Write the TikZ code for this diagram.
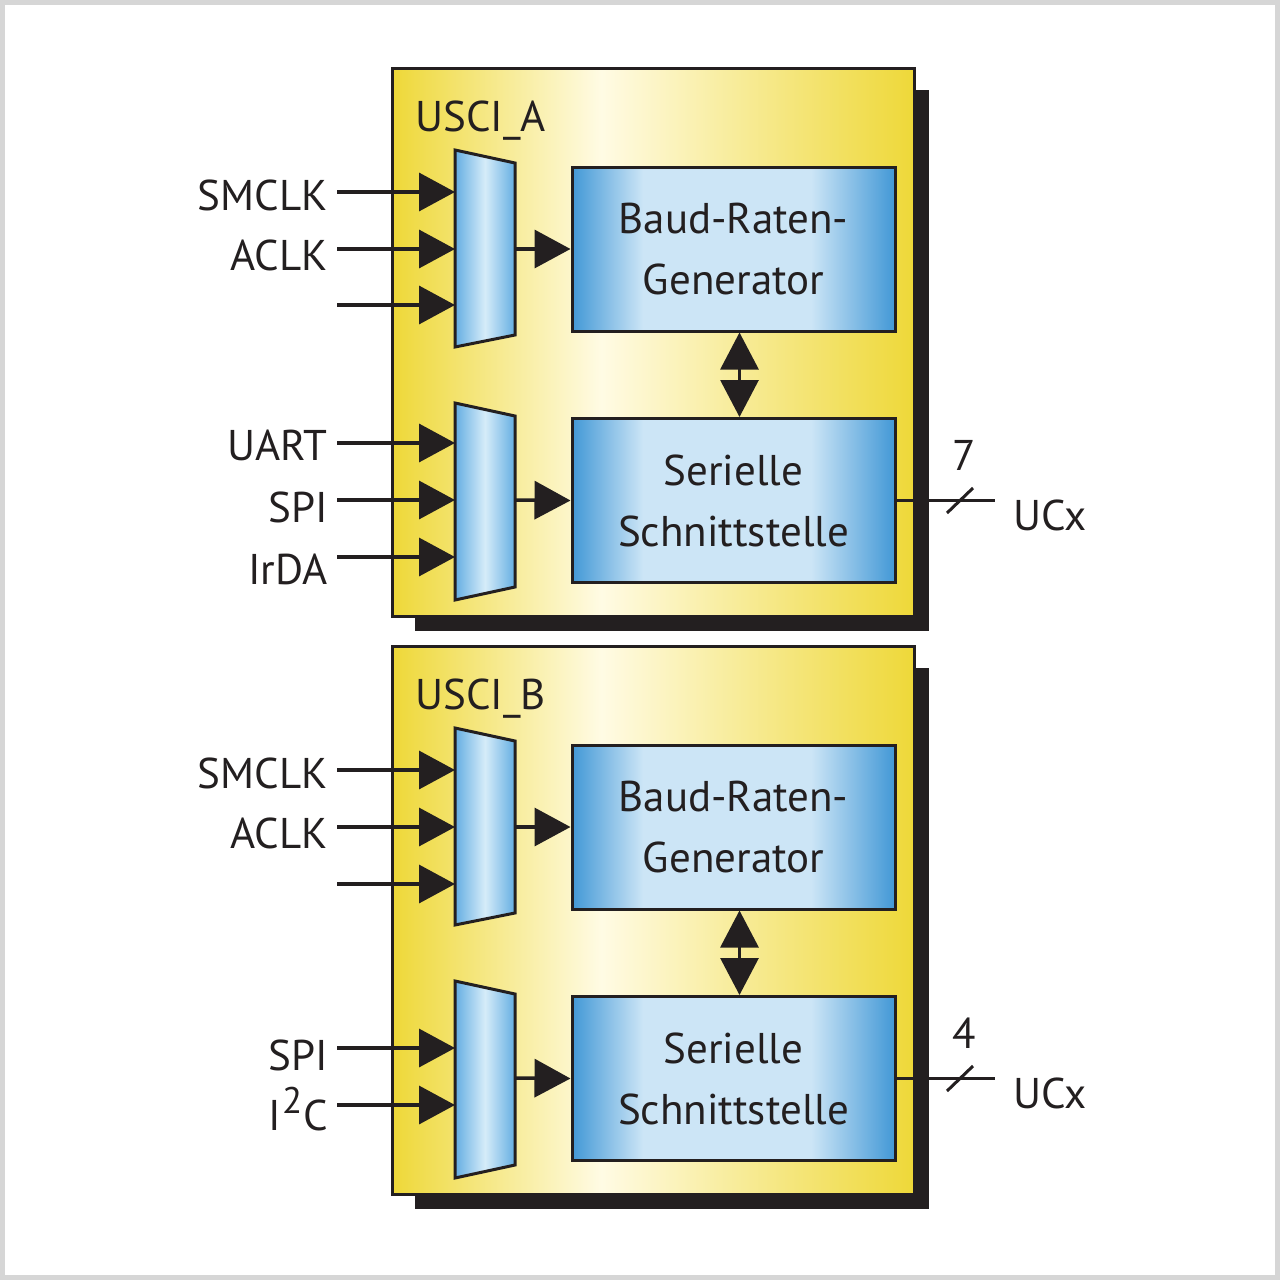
\documentclass[tikz,border=0pt]{standalone}
\usepackage{fontspec}
\setmainfont{PT Sans}
\usepackage{tikz}
\usetikzlibrary{
    calc,
    arrows.meta,
    positioning
}
\pgfdeclarelayer{bg}
\pgfsetlayers{bg,main}
\definecolor{uyellow}{RGB}{238,216,56}
\definecolor{ulight}{RGB}{255,251,228}
\definecolor{bdark}{RGB}{66,152,214}
\definecolor{blight}{RGB}{204,229,246}
\definecolor{mdark}{RGB}{100,174,226}
\definecolor{mlight}{RGB}{214,236,249}
\definecolor{ink}{RGB}{35,31,32}
\definecolor{framegray}{RGB}{214,214,214}
\pgfdeclarehorizontalshading{blkshade}{100bp}{color(0bp)=(bdark); color(25bp)=(bdark);
    color(36bp)=(blight); color(62bp)=(blight); color(75bp)=(bdark); color(100bp)=(bdark)}
\pgfdeclarehorizontalshading{uscishade}{100bp}{color(0bp)=(uyellow); color(25bp)=(uyellow);
    color(45bp)=(ulight); color(75bp)=(uyellow); color(100bp)=(uyellow)}
\tikzset{
    every node/.style={font=\fontsize{43}{61}\selectfont, text=ink},
    usci/.style={draw=ink, line width=3pt, shading=uscishade,
        minimum width=522pt, minimum height=548pt, anchor=north west},
    blk/.style={draw=ink, line width=3pt, shading=blkshade,
        minimum width=323pt, minimum height=164pt, align=center},
    mux/.style={draw=ink, line width=3pt, line join=miter, left color=mdark,
        right color=mdark, middle color=mlight},
    sig/.style={draw=ink, line width=3.5pt, -{Triangle[length=36pt,width=38pt]}},
    dbl/.style={draw=ink, line width=3pt, {Triangle[length=37pt,width=38pt]}-{Triangle[length=37pt,width=38pt]}},
    bus/.style={draw=ink, line width=3pt},
    lbl/.style={anchor=base east, inner sep=0pt},
    shadowbox/.style={fill=ink}
}

\begin{document}
\begin{tikzpicture}[x=1pt, y=-1pt]
    \useasboundingbox (0,0) rectangle (1280,1280);
    \draw[framegray, line width=5pt] (2.5,2.5) rectangle (1277.5,1277.5);

    % USCI_A
    \node[usci] (usciA) at (391,67) {};
    \begin{pgfonlayer}{bg}
        \fill[shadowbox] ($(usciA.north west)+(24,23)$) rectangle ($(usciA.south east)+(13,13)$);
    \end{pgfonlayer}
    \node[anchor=base west, inner sep=0pt] (nameA) at (415,131) {USCI\_A};
    \node[blk] (baudA) at (733.5,249) {Baud-Raten-\\Generator};
    \node[blk] (serA) at (733.5,500.5) {Serielle\\Schnittstelle};
    \draw[mux] (455,150) -- (515,163) -- (515,335) -- (455,347) -- cycle;
    \draw[mux] (455,403) -- (515,416) -- (515,587) -- (455,600) -- cycle;
    \coordinate (a1) at (455,192);
    \coordinate (a2) at (455,249);
    \coordinate (a3) at (455,305);
    \coordinate (a4) at (455,443);
    \coordinate (a5) at (455,500);
    \coordinate (a6) at (455,557);
    \coordinate (muxA1out) at (515,249);
    \coordinate (muxA2out) at (515,500);
    \node[lbl] (smclkA) at (328,210) {SMCLK};
    \node[lbl] (aclkA) at (328,270) {ACLK};
    \coordinate (freeA) at (337,305);
    \node[lbl] (uart) at (328,460) {UART};
    \node[lbl] (spiA) at (328,522) {SPI};
    \node[lbl] (irda) at (328,584) {IrDA};
    \draw[sig] ($(smclkA.east |- a1)+(9,0)$) -- (a1);
    \draw[sig] ($(aclkA.east |- a2)+(9,0)$) -- (a2);
    \draw[sig] (freeA) -- (a3);
    \draw[sig] ($(uart.east |- a4)+(9,0)$) -- (a4);
    \draw[sig] ($(spiA.east |- a5)+(9,0)$) -- (a5);
    \draw[sig] ($(irda.east |- a6)+(9,0)$) -- (a6);
    \draw[sig] (muxA1out) -- (baudA.west);
    \draw[sig] (muxA2out) -- (serA.west);
    \draw[dbl] ([xshift=6pt]baudA.south) -- ([xshift=6pt]serA.north);
    \coordinate (ucxA) at (995,500.5);
    \draw[bus] (serA.east) -- (ucxA);
    \draw[bus] (947,513) -- (973,488);
    \node (wA) at (964,455) {7};
    \node[anchor=base west, inner sep=0pt] (outA) at (1013,530) {UCx};

    % USCI_B
    \node[usci] (usciB) at (391,645) {};
    \begin{pgfonlayer}{bg}
        \fill[shadowbox] ($(usciB.north west)+(24,23)$) rectangle ($(usciB.south east)+(13,13)$);
    \end{pgfonlayer}
    \node[anchor=base west, inner sep=0pt] (nameB) at (415,709) {USCI\_B};
    \node[blk] (baudB) at (733.5,827) {Baud-Raten-\\Generator};
    \node[blk] (serB) at (733.5,1078.5) {Serielle\\Schnittstelle};
    \draw[mux] (455,728) -- (515,741) -- (515,913) -- (455,925) -- cycle;
    \draw[mux] (455,981) -- (515,994) -- (515,1165) -- (455,1178) -- cycle;
    \coordinate (b1) at (455,770);
    \coordinate (b2) at (455,827);
    \coordinate (b3) at (455,884);
    \coordinate (b4) at (455,1048);
    \coordinate (b5) at (455,1105);
    \coordinate (muxB1out) at (515,827);
    \coordinate (muxB2out) at (515,1078);
    \node[lbl] (smclkB) at (328,788) {SMCLK};
    \node[lbl] (aclkB) at (328,848) {ACLK};
    \coordinate (freeB) at (337,884);
    \node[lbl] (spiB) at (328,1070) {SPI};
    \node[lbl] (iic) at (328,1130) {I\kern1pt\raisebox{17pt}{\fontsize{37}{37}\selectfont 2}\kern1pt C};
    \draw[sig] ($(smclkB.east |- b1)+(9,0)$) -- (b1);
    \draw[sig] ($(aclkB.east |- b2)+(9,0)$) -- (b2);
    \draw[sig] (freeB) -- (b3);
    \draw[sig] ($(spiB.east |- b4)+(9,0)$) -- (b4);
    \draw[sig] ($(iic.east |- b5)+(9,0)$) -- (b5);
    \draw[sig] (muxB1out) -- (baudB.west);
    \draw[sig] (muxB2out) -- (serB.west);
    \draw[dbl] ([xshift=6pt]baudB.south) -- ([xshift=6pt]serB.north);
    \coordinate (ucxB) at (995,1078.5);
    \draw[bus] (serB.east) -- (ucxB);
    \draw[bus] (947,1091) -- (973,1066);
    \node (wB) at (964,1033) {4};
    \node[anchor=base west, inner sep=0pt] (outB) at (1013,1108) {UCx};
\end{tikzpicture}
\end{document}
